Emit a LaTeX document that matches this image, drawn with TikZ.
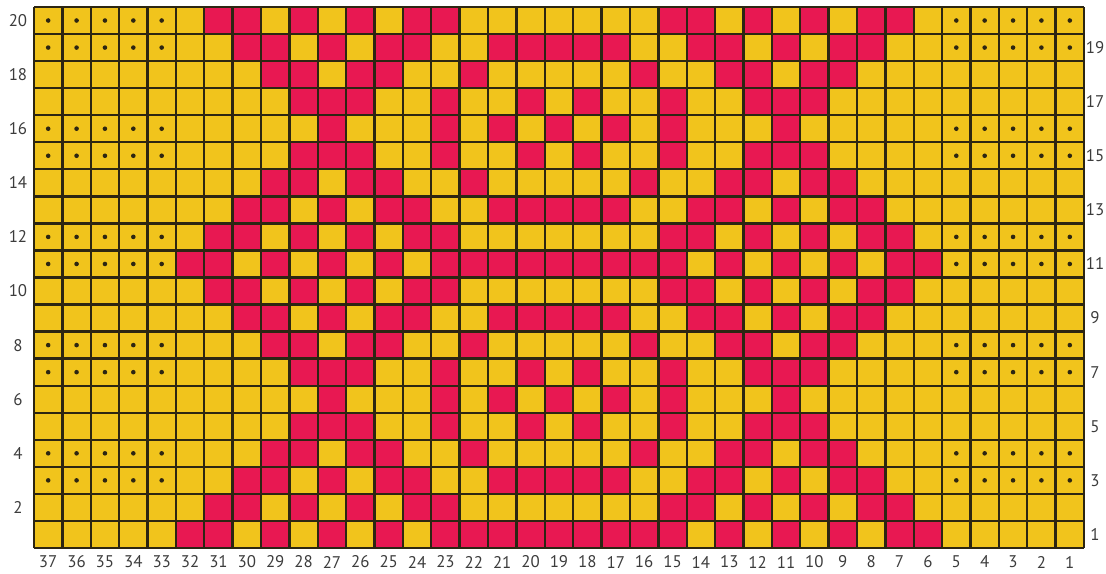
\documentclass[tikz,border=0pt]{standalone}
\usepackage{fontspec}
\setmainfont{PT Sans}
\usepackage{tikz}

\definecolor{yarnyellow}{RGB}{241,196,28}
\definecolor{yarnred}{RGB}{232,24,82}
\definecolor{gridink}{RGB}{45,38,18}
\definecolor{labelgray}{RGB}{60,60,60}

\tikzstyle{redstitch} = [fill=yarnred]
\tikzstyle{gridrule} = [draw=gridink, line width=1.7pt]
\tikzstyle{purl} = [fill=gridink]
\tikzstyle{numlabel} = [text=labelgray, inner sep=0pt, font=\fontsize{12}{14}\selectfont]

\begin{document}
\begin{tikzpicture}[x=0.025cm, y=0.025cm]
        \useasboundingbox (0,0) rectangle (1106,573);
        \def\cw{28.378}
        \def\ch{27.05}
        % Chart background
        \fill[yarnyellow] (34,25) rectangle (1084,566);

        % Red stitches, row by row (columns counted from the right)
        \foreach \r/\cols in {
                1/{6,7,9,11,13,15,16,17,18,19,20,21,22,23,25,27,29,31,32},
                2/{7,8,10,12,14,15,23,24,26,28,30,31},
                3/{8,9,11,13,14,17,18,19,20,21,24,25,27,29,30},
                4/{9,10,12,13,16,22,25,26,28,29},
                5/{10,11,12,15,18,20,23,26,27,28},
                6/{11,15,17,19,21,23,27},
                7/{10,11,12,15,18,20,23,26,27,28},
                8/{9,10,12,13,16,22,25,26,28,29},
                9/{8,9,11,13,14,17,18,19,20,21,24,25,27,29,30},
                10/{7,8,10,12,14,15,23,24,26,28,30,31},
                11/{6,7,9,11,13,15,16,17,18,19,20,21,22,23,25,27,29,31,32},
                12/{7,8,10,12,14,15,23,24,26,28,30,31},
                13/{8,9,11,13,14,17,18,19,20,21,24,25,27,29,30},
                14/{9,10,12,13,16,22,25,26,28,29},
                15/{10,11,12,15,18,20,23,26,27,28},
                16/{11,15,17,19,21,23,27},
                17/{10,11,12,15,18,20,23,26,27,28},
                18/{9,10,12,13,16,22,25,26,28,29},
                19/{8,9,11,13,14,17,18,19,20,21,24,25,27,29,30},
                20/{7,8,10,12,14,15,23,24,26,28,30,31}}{
            \foreach \c in \cols {
                \fill[redstitch] ({34+(37-\c)*\cw},{25+(\r-1)*\ch}) rectangle +(\cw,\ch);
            }
        }

        % Grid
        \foreach \i in {0,...,37}
            \draw[gridrule] ({34+\i*\cw},25) -- ({34+\i*\cw},566);
        \foreach \j in {0,...,20}
            \draw[gridrule] (34,{25+\j*\ch}) -- (1084,{25+\j*\ch});

        % Purl dots in the side panels
        \foreach \r in {3,4,7,8,11,12,15,16,19,20}
            \foreach \c in {1,...,5,33,34,35,36,37}
                \fill[purl] ({34+(37-\c+0.5)*\cw},{25+(\r-0.5)*\ch}) circle (2.3);

        % Column numbers
        \foreach \c in {1,...,37}
            \node[numlabel] (col\c) at ({34+(37-\c+0.5)*\cw},11) {\c};

        % Row numbers: even on the left, odd on the right
        \foreach \r in {2,4,...,20}
            \node[numlabel] (row\r) at (18,{25+(\r-0.5)*\ch}) {\r};
        \foreach \r in {1,3,...,19}
            \node[numlabel] (row\r) at (1095,{25+(\r-0.5)*\ch}) {\r};
    \end{tikzpicture}
\end{document}
